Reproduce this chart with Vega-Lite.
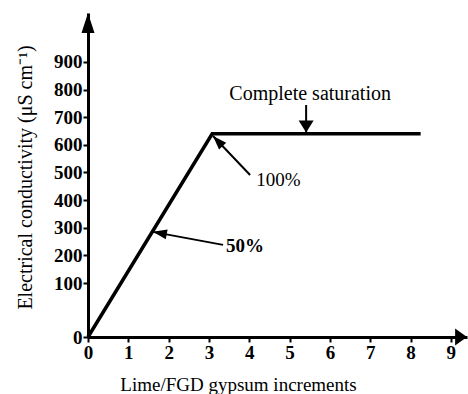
{
  "$schema": "https://vega.github.io/schema/vega-lite/v6.json",
  "width": 379,
  "height": 324,
  "autosize": {"type": "none"},
  "padding": {"left": 88, "top": 13, "right": 1, "bottom": 57},
  "background": "white",
  "config": {"view": {"stroke": null}, "font": "Liberation Serif"},
  "datasets": {
    "curve": [
      {"inc": 0, "ec": 0},
      {"inc": 3.08, "ec": 640},
      {"inc": 8.25, "ec": 640}
    ],
    "notes": [
      {"label": "50%", "tailX": 3.35, "tailY": 238, "tipX": 1.61, "tipY": 285, "textX": 3.42, "textY": 234},
      {"label": "100%", "tailX": 4.02, "tailY": 491, "tipX": 3.1, "tipY": 632, "textX": 4.17, "textY": 473},
      {"label": "Complete saturation", "tailX": 5.41, "tailY": 744, "tipX": 5.41, "tipY": 645, "textX": 5.51, "textY": 784}
    ],
    "yTip": [{"inc": 0, "ec": 1077}],
    "xTip": [{"inc": 9.4, "ec": 0}]
  },
  "encoding": {
    "x": {"type": "quantitative", "scale": {"domain": [0, 9.4], "nice": false, "zero": false}},
    "y": {"type": "quantitative", "scale": {"domain": [0, 100, 1077], "range": [324, 270, 0], "nice": false}}
  },
  "layer": [
    {
      "data": {"name": "curve"},
      "mark": {"type": "line", "color": "black", "strokeWidth": 3.5, "strokeJoin": "miter"},
      "encoding": {
        "x": {
          "field": "inc", "type": "quantitative",
          "axis": {
            "values": [0, 1, 2, 3, 4, 5, 6, 7, 8, 9],
            "tickCount": 20,
            "format": "d",
            "grid": false,
            "domainColor": "black", "domainWidth": 3,
            "tickColor": "black", "tickWidth": 2, "tickSize": 5,
            "labelFont": "Liberation Serif", "labelFontSize": 19, "labelFontWeight": "bold", "labelColor": "black",
            "labelPadding": 1, "labelFlush": false, "labelOverlap": false,
            "title": "Lime/FGD gypsum increments",
            "titleFont": "Liberation Serif", "titleFontSize": 19, "titleFontWeight": "normal", "titleColor": "black",
            "titleX": 150, "titleY": 53, "titleAlign": "center", "titleBaseline": "alphabetic"
          }
        },
        "y": {
          "field": "ec", "type": "quantitative",
          "axis": {
            "values": [0, 100, 200, 300, 400, 500, 600, 700, 800, 900],
            "tickCount": 20,
            "format": "d",
            "grid": false,
            "domainColor": "black", "domainWidth": 3,
            "tickColor": "black", "tickWidth": 2, "tickSize": 5,
            "labelFont": "Liberation Serif", "labelFontSize": 19, "labelFontWeight": "bold", "labelColor": "black",
            "labelPadding": 1, "labelFlush": false, "labelOverlap": false,
            "title": "Electrical conductivity (μS cm⁻¹)",
            "titleFont": "Liberation Serif", "titleFontSize": 20, "titleFontWeight": "normal", "titleColor": "black",
            "titleX": -63, "titleY": 164, "titleAngle": 270, "titleAlign": "center", "titleBaseline": "middle"
          }
        }
      }
    },
    {
      "data": {"name": "notes"},
      "mark": {"type": "rule", "color": "black", "strokeWidth": 2},
      "encoding": {
        "x": {"field": "tailX", "type": "quantitative"},
        "y": {"field": "tailY", "type": "quantitative"},
        "x2": {"field": "tipX"},
        "y2": {"field": "tipY"}
      }
    },
    {
      "data": {"name": "notes"},
      "transform": [{"filter": "datum.label === '50%'"}],
      "mark": {"type": "point", "filled": true, "color": "black", "opacity": 1, "strokeWidth": 0, "shape": "M0,0L-0.7,2L0.7,2Z", "size": 196, "angle": 280.5},
      "encoding": {
        "x": {"field": "tipX", "type": "quantitative"},
        "y": {"field": "tipY", "type": "quantitative"}
      }
    },
    {
      "data": {"name": "notes"},
      "transform": [{"filter": "datum.label === '100%'"}],
      "mark": {"type": "point", "filled": true, "color": "black", "opacity": 1, "strokeWidth": 0, "shape": "M0,0L-0.7,2L0.7,2Z", "size": 196, "angle": 316.5},
      "encoding": {
        "x": {"field": "tipX", "type": "quantitative"},
        "y": {"field": "tipY", "type": "quantitative"}
      }
    },
    {
      "data": {"name": "notes"},
      "transform": [{"filter": "datum.label === 'Complete saturation'"}],
      "mark": {"type": "point", "filled": true, "color": "black", "opacity": 1, "strokeWidth": 0, "shape": "M0,0L-1,1.6L1,1.6Z", "size": 225, "angle": 180},
      "encoding": {
        "x": {"field": "tipX", "type": "quantitative"},
        "y": {"field": "tipY", "type": "quantitative"}
      }
    },
    {
      "data": {"name": "notes"},
      "transform": [{"filter": "datum.label === '50%'"}],
      "mark": {"type": "text", "align": "left", "baseline": "middle", "fontSize": 19, "fontWeight": "bold", "color": "black"},
      "encoding": {
        "x": {"field": "textX", "type": "quantitative"},
        "y": {"field": "textY", "type": "quantitative"},
        "text": {"field": "label"}
      }
    },
    {
      "data": {"name": "notes"},
      "transform": [{"filter": "datum.label === '100%'"}],
      "mark": {"type": "text", "align": "left", "baseline": "middle", "fontSize": 19, "fontWeight": "normal", "color": "black"},
      "encoding": {
        "x": {"field": "textX", "type": "quantitative"},
        "y": {"field": "textY", "type": "quantitative"},
        "text": {"field": "label"}
      }
    },
    {
      "data": {"name": "notes"},
      "transform": [{"filter": "datum.label === 'Complete saturation'"}],
      "mark": {"type": "text", "align": "center", "baseline": "middle", "fontSize": 20, "fontWeight": "normal", "color": "black"},
      "encoding": {
        "x": {"field": "textX", "type": "quantitative"},
        "y": {"field": "textY", "type": "quantitative"},
        "text": {"field": "label"}
      }
    },
    {
      "data": {"name": "yTip"},
      "mark": {"type": "point", "filled": true, "color": "black", "opacity": 1, "strokeWidth": 0, "shape": "M0,0L-0.65,2L0.65,2Z", "size": 400, "angle": 0},
      "encoding": {
        "x": {"field": "inc", "type": "quantitative"},
        "y": {"field": "ec", "type": "quantitative"}
      }
    },
    {
      "data": {"name": "xTip"},
      "mark": {"type": "point", "filled": true, "color": "black", "opacity": 1, "strokeWidth": 0, "shape": "M0,0L-1,1.4L1,1.4Z", "size": 289, "angle": 90},
      "encoding": {
        "x": {"field": "inc", "type": "quantitative"},
        "y": {"field": "ec", "type": "quantitative"}
      }
    }
  ]
}
